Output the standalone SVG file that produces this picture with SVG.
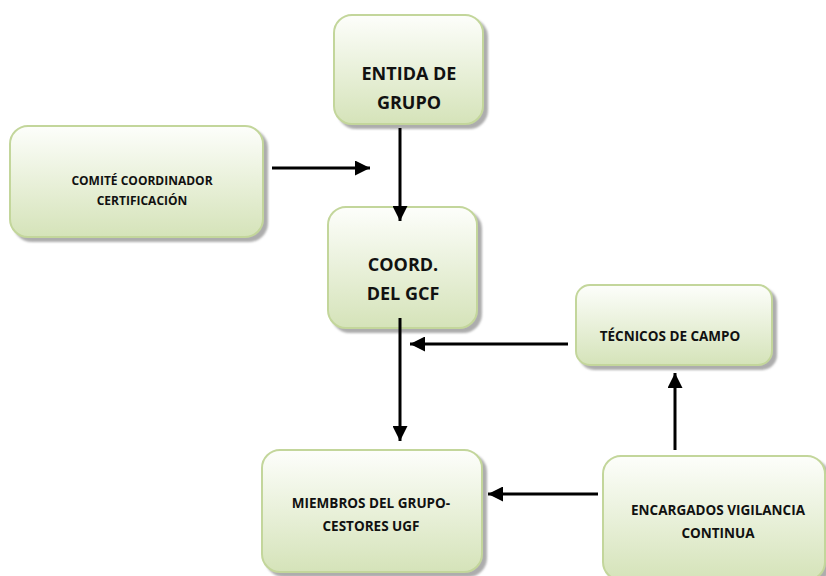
<svg xmlns="http://www.w3.org/2000/svg" width="826" height="576" viewBox="0 0 826 576">
  <defs>
    <linearGradient id="g" x1="0" y1="0" x2="0" y2="1">
      <stop offset="0" stop-color="#fdfefb"/>
      <stop offset="1" stop-color="#d5e3b9"/>
    </linearGradient>
    <filter id="sh" x="-10%" y="-10%" width="130%" height="130%">
      <feDropShadow dx="4" dy="4" stdDeviation="1" flood-color="#8a8a8a" flood-opacity="0.7"/>
    </filter>
    <marker id="ah" viewBox="0 0 10 10" refX="10" refY="5" markerWidth="5" markerHeight="5" markerUnits="strokeWidth" orient="auto">
      <path d="M0,0 L10,5 L0,10 Z" fill="#000"/>
    </marker>
  </defs>
  <style>
    .box { fill: url(#g); stroke: #c3d69b; stroke-width: 2; filter: url(#sh); }
    .t { font-family: "Open Sans", Lato, "Liberation Sans", sans-serif; font-weight: bold; fill: #111; text-anchor: middle; }
    .big { font-size: 18px; }
    .sm { font-size: 13.5px; }
    .xs { font-size: 12px; }
    .c { stroke: #000; stroke-width: 3; fill: none; marker-end: url(#ah); }
  </style>

  <g id="entidad">
    <rect class="box" x="334" y="15" width="149" height="109" rx="18"/>
    <text class="t big" x="409" y="80">ENTIDA DE</text>
    <text class="t big" x="409" y="109">GRUPO</text>
  </g>
  <g id="comite">
    <rect class="box" x="10" y="126" width="253" height="111" rx="18"/>
    <text class="t xs" x="142" y="185">COMITÉ COORDINADOR</text>
    <text class="t xs" x="142" y="205">CERTIFICACIÓN</text>
  </g>
  <g id="coord">
    <rect class="box" x="328" y="207" width="149" height="121" rx="18"/>
    <text class="t big" x="403" y="271">COORD.</text>
    <text class="t big" x="403" y="300">DEL GCF</text>
  </g>
  <g id="tecnicos">
    <rect class="box" x="576" y="285" width="196" height="80" rx="14"/>
    <text class="t sm" x="670" y="341">TÉCNICOS DE CAMPO</text>
  </g>
  <g id="miembros">
    <rect class="box" x="262" y="450" width="220" height="122" rx="18"/>
    <text class="t sm" x="371" y="508">MIEMBROS DEL GRUPO-</text>
    <text class="t sm" x="371" y="531">CESTORES UGF</text>
  </g>
  <g id="encargados">
    <rect class="box" x="603" y="456" width="222" height="124" rx="18"/>
    <text class="t sm" x="718" y="515">ENCARGADOS VIGILANCIA</text>
    <text class="t sm" x="718" y="538">CONTINUA</text>
  </g>

  <g id="connectors">
    <line class="c" x1="272" y1="168" x2="370" y2="168"/>
    <line class="c" x1="400" y1="128" x2="400" y2="221"/>
    <line class="c" x1="400" y1="318" x2="400" y2="441"/>
    <line class="c" x1="568" y1="344" x2="410" y2="344"/>
    <line class="c" x1="675" y1="450" x2="675" y2="373"/>
    <line class="c" x1="598" y1="494" x2="488" y2="494"/>
  </g>
</svg>
